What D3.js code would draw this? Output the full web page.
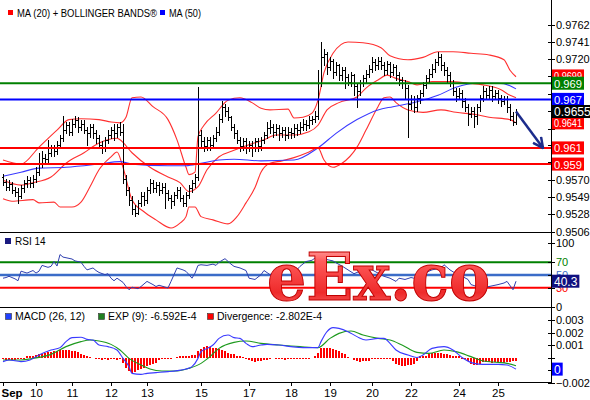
<!DOCTYPE html>
<html><head><meta charset="utf-8">
<script src="https://cdn.jsdelivr.net/npm/d3@7"></script>
<style>body{margin:0;background:#fff}svg{display:block}</style>
</head><body><svg id="c" width="590" height="400"></svg>
<script>
// ---------- DATA ----------
const open=[0.9574,0.9568,0.9562,0.9565,0.9558,0.9556,0.9550,0.9560,0.9566,0.9570,
0.9566,0.9572,0.9580,0.9590,0.9598,0.9596,0.9604,0.9610,0.9606,0.9614,
0.9622,0.9632,0.9638,0.9630,0.9640,0.9644,0.9636,0.9640,0.9632,0.9628,
0.9636,0.9628,0.9622,0.9614,0.9610,0.9620,0.9626,0.9632,0.9628,0.9636,
0.9630,0.9572,0.9558,0.9546,0.9534,0.9530,0.9542,0.9550,0.9546,0.9558,
0.9566,0.9560,0.9564,0.9558,0.9562,0.9554,0.9548,0.9544,0.9552,0.9558,
0.9548,0.9542,0.9552,0.9560,0.9566,0.9574,0.9626,0.9618,0.9612,0.9620,
0.9614,0.9622,0.9630,0.9646,0.9660,0.9656,0.9648,0.9636,0.9628,0.9620,
0.9612,0.9618,0.9610,0.9614,0.9610,0.9618,0.9612,0.9620,0.9626,0.9634,
0.9636,0.9630,0.9634,0.9628,0.9632,0.9626,0.9630,0.9628,0.9634,0.9632,
0.9636,0.9640,0.9638,0.9644,0.9646,0.9650,0.9690,0.9722,0.9726,0.9710,
0.9718,0.9704,0.9712,0.9700,0.9706,0.9698,0.9692,0.9700,0.9686,0.9680,
0.9690,0.9696,0.9702,0.9708,0.9716,0.9712,0.9718,0.9712,0.9706,0.9714,
0.9704,0.9710,0.9700,0.9694,0.9690,0.9684,0.9664,0.9670,0.9660,0.9672,
0.9678,0.9688,0.9696,0.9702,0.9708,0.9716,0.9722,0.9712,0.9706,0.9700,
0.9690,0.9680,0.9674,0.9678,0.9668,0.9660,0.9652,0.9656,0.9650,0.9660,
0.9672,0.9680,0.9676,0.9682,0.9674,0.9678,0.9672,0.9668,0.9670,0.9660,
0.9650,0.9642];
const high=[0.9578,0.9572,0.9570,0.9568,0.9562,0.9560,0.9564,0.9570,0.9575,0.9574,
0.9576,0.9586,0.9604,0.9606,0.9602,0.9620,0.9614,0.9614,0.9618,0.9626,
0.9650,0.9642,0.9642,0.9646,0.9650,0.9648,0.9644,0.9644,0.9636,0.9640,
0.9640,0.9632,0.9626,0.9618,0.9624,0.9632,0.9636,0.9640,0.9640,0.9642,
0.9640,0.9576,0.9562,0.9550,0.9540,0.9546,0.9556,0.9556,0.9562,0.9572,
0.9570,0.9568,0.9568,0.9566,0.9566,0.9558,0.9552,0.9556,0.9562,0.9562,
0.9552,0.9556,0.9564,0.9570,0.9578,0.9685,0.9632,0.9624,0.9624,0.9624,
0.9626,0.9636,0.9652,0.9668,0.9664,0.9660,0.9650,0.9640,0.9632,0.9624,
0.9622,0.9622,0.9618,0.9618,0.9622,0.9622,0.9624,0.9630,0.9642,0.9644,
0.9640,0.9640,0.9638,0.9636,0.9636,0.9636,0.9634,0.9640,0.9640,0.9642,
0.9646,0.9644,0.9650,0.9650,0.9656,0.9706,0.9741,0.9732,0.9728,0.9722,
0.9720,0.9716,0.9714,0.9710,0.9710,0.9702,0.9704,0.9702,0.9690,0.9694,
0.9700,0.9706,0.9712,0.9722,0.9720,0.9722,0.9722,0.9716,0.9718,0.9716,
0.9714,0.9712,0.9704,0.9698,0.9694,0.9688,0.9676,0.9674,0.9676,0.9682,
0.9692,0.9700,0.9708,0.9714,0.9720,0.9728,0.9726,0.9716,0.9710,0.9704,
0.9694,0.9684,0.9684,0.9682,0.9672,0.9664,0.9660,0.9660,0.9664,0.9676,
0.9686,0.9684,0.9686,0.9686,0.9682,0.9682,0.9676,0.9674,0.9674,0.9664,
0.9654,0.9658];
const low=[0.9564,0.9558,0.9558,0.9554,0.9550,0.9542,0.9548,0.9556,0.9562,0.9562,
0.9562,0.9568,0.9576,0.9586,0.9590,0.9592,0.9600,0.9600,0.9602,0.9610,
0.9618,0.9628,0.9626,0.9626,0.9636,0.9630,0.9632,0.9628,0.9614,0.9624,
0.9622,0.9616,0.9610,0.9604,0.9606,0.9616,0.9622,0.9620,0.9624,0.9626,
0.9566,0.9552,0.9540,0.9528,0.9526,0.9528,0.9538,0.9540,0.9542,0.9554,
0.9556,0.9556,0.9552,0.9554,0.9536,0.9546,0.9536,0.9540,0.9548,0.9544,
0.9538,0.9538,0.9548,0.9556,0.9562,0.9570,0.9612,0.9606,0.9608,0.9608,
0.9610,0.9618,0.9626,0.9642,0.9650,0.9644,0.9632,0.9622,0.9616,0.9606,
0.9608,0.9604,0.9606,0.9600,0.9606,0.9606,0.9608,0.9616,0.9622,0.9628,
0.9624,0.9626,0.9620,0.9624,0.9620,0.9622,0.9622,0.9624,0.9626,0.9628,
0.9632,0.9632,0.9634,0.9640,0.9642,0.9646,0.9686,0.9712,0.9702,0.9706,
0.9696,0.9700,0.9694,0.9694,0.9684,0.9688,0.9686,0.9676,0.9660,0.9676,
0.9686,0.9690,0.9698,0.9704,0.9706,0.9708,0.9708,0.9700,0.9702,0.9698,
0.9700,0.9694,0.9688,0.9684,0.9670,0.9624,0.9658,0.9654,0.9656,0.9666,
0.9674,0.9684,0.9692,0.9698,0.9704,0.9712,0.9706,0.9700,0.9692,0.9686,
0.9676,0.9668,0.9670,0.9660,0.9656,0.9638,0.9648,0.9636,0.9640,0.9656,
0.9668,0.9670,0.9672,0.9668,0.9670,0.9666,0.9662,0.9664,0.9654,0.9644,
0.9638,0.9640];
const close=[0.9568,0.9562,0.9565,0.9558,0.9556,0.9550,0.9560,0.9566,0.9570,0.9566,
0.9572,0.9580,0.9590,0.9598,0.9596,0.9604,0.9610,0.9606,0.9614,0.9622,
0.9632,0.9638,0.9630,0.9640,0.9644,0.9636,0.9640,0.9632,0.9628,0.9636,
0.9628,0.9622,0.9614,0.9610,0.9620,0.9626,0.9632,0.9628,0.9636,0.9630,
0.9572,0.9558,0.9546,0.9534,0.9530,0.9542,0.9550,0.9546,0.9558,0.9566,
0.9560,0.9564,0.9558,0.9562,0.9554,0.9548,0.9544,0.9552,0.9558,0.9548,
0.9542,0.9552,0.9560,0.9566,0.9574,0.9626,0.9618,0.9612,0.9620,0.9614,
0.9622,0.9630,0.9646,0.9660,0.9656,0.9648,0.9636,0.9628,0.9620,0.9612,
0.9618,0.9610,0.9614,0.9610,0.9618,0.9612,0.9620,0.9626,0.9634,0.9636,
0.9630,0.9634,0.9628,0.9632,0.9626,0.9630,0.9628,0.9634,0.9632,0.9636,
0.9640,0.9638,0.9644,0.9646,0.9650,0.9690,0.9722,0.9726,0.9710,0.9718,
0.9704,0.9712,0.9700,0.9706,0.9698,0.9692,0.9700,0.9686,0.9680,0.9690,
0.9696,0.9702,0.9708,0.9716,0.9712,0.9718,0.9712,0.9706,0.9714,0.9704,
0.9710,0.9700,0.9694,0.9690,0.9684,0.9664,0.9670,0.9660,0.9672,0.9678,
0.9688,0.9696,0.9702,0.9708,0.9716,0.9722,0.9712,0.9706,0.9700,0.9690,
0.9680,0.9674,0.9678,0.9668,0.9660,0.9652,0.9656,0.9650,0.9660,0.9672,
0.9680,0.9676,0.9682,0.9674,0.9678,0.9672,0.9668,0.9670,0.9660,0.9650,
0.9642,0.9655];

const upperIdx=[0,6,12,18,22,26,32,36,39,41,43,46,50,55,58,61,62,64,65,67,71,75,79,83,86,89,95,97,100,103,105,107,110,115,120,126,129,135,140,145,150,156,162,167,169,171];
const upperVal=[0.9595,0.9590,0.9611,0.9632,0.9645,0.9646,0.9645,0.9642,0.9641,0.9648,0.9672,0.9673,0.9661,0.9645,0.9620,0.9586,0.9577,0.9580,0.9624,0.9638,0.9653,0.9669,0.9672,0.9666,0.9659,0.9657,0.9658,0.9647,0.9648,0.9653,0.9669,0.9703,0.9727,0.9741,0.9740,0.9734,0.9724,0.9719,0.9722,0.9729,0.9729,0.9727,0.9725,0.9719,0.9706,0.9698];
const midIdx=[0,6,10,16,21,27,32,38,39,43,49,55,59,62,65,68,72,77,82,87,91,97,102,105,108,112,118,121,125,128,131,135,138,143,149,155,160,166,169,171];
const midVal=[0.9570,0.9564,0.9567,0.9574,0.9591,0.9604,0.9616,0.9622,0.9620,0.9604,0.9586,0.9574,0.9567,0.9556,0.9562,0.9583,0.9599,0.9607,0.9614,0.9620,0.9626,0.9626,0.9630,0.9638,0.9657,0.9666,0.9673,0.9684,0.9694,0.9700,0.9696,0.9692,0.9688,0.9692,0.9692,0.9690,0.9688,0.9682,0.9675,0.9672];
const lowerIdx=[0,3,10,12,17,19,23,26,29,32,36,38,40,43,47,51,56,59,61,62,64,66,70,75,78,81,84,86,89,93,97,102,105,107,110,113,118,121,125,127,129,131,135,140,146,151,158,162,169,171];
const lowerVal=[0.9547,0.9544,0.9546,0.9542,0.9543,0.9537,0.9537,0.9543,0.9562,0.9583,0.9599,0.9605,0.9586,0.9546,0.9531,0.9521,0.9511,0.9517,0.9525,0.9537,0.9537,0.9525,0.9521,0.9516,0.9525,0.9542,0.9561,0.9580,0.9591,0.9594,0.9598,0.9605,0.9610,0.9595,0.9586,0.9591,0.9611,0.9632,0.9661,0.9672,0.9673,0.9666,0.9657,0.9654,0.9657,0.9654,0.9651,0.9648,0.9645,0.9641];
const ma50Idx=[0,6,12,21,32,39,43,55,61,66,72,77,86,97,105,111,118,125,130,138,145,151,158,165,169,171];
const ma50Val=[0.9575,0.9580,0.9585,0.9586,0.9590,0.9593,0.9590,0.9588,0.9588,0.9591,0.9595,0.9596,0.9594,0.9595,0.9610,0.9628,0.9645,0.9657,0.9661,0.9667,0.9675,0.9685,0.9690,0.9690,0.9687,0.9683];

const levelVals=[0.969,0.967,0.961,0.959];
const levelColors=["#008000","#0000ff","#ff0000","#ff0000"];
// value tags on the right axis, in drawing order (last on top)
const tagVals=[0.9699,0.969,0.967,0.9641,0.961,0.959,0.9655];
const tagTexts=["0.9699","0.969","0.967","0.9641","0.961","0.959","0.9655"];
const tagColors=["#ff0000","#008000","#0000ff","#ff0000","#ff0000","#ff0000","#000000"];
const forecastIdx=[171,180];
const forecastVal=[0.9655,0.961];
const priceTicks=[0.9762,0.9741,0.9720,0.9699,0.9677,0.9656,0.9634,0.9613,0.9592,0.9570,0.9549,0.9528,0.9506];
const priceTickLabels=[0.9762,0.9741,0.9720,0.9570,0.9549,0.9528,0.9506];

const rsiIdx=[0,1,2,4,5,6,8,10,11,12,13,15,16,17,18,19,20,21,23,24,26,27,28,30,31,32,34,35,36,37,38,40,41,42,43,45,46,47,48,49,50,51,52,55,56,57,58,60,61,62,63,64,65,66,68,70,71,72,74,76,77,79,81,82,84,86,87,89,91,92,94,96,97,99,101,103,105,106,107,108,110,111,113,115,117,119,121,123,125,127,129,131,132,134,136,137,139,141,143,146,147,149,151,153,155,156,158,160,162,165,167,168,170,171];
const rsiVal=[45,46,48,44,41,56,53,57,53,56,65,62,63.5,71,64,82,78,77,75,72,70,63.5,58,61,57,54,50.5,52,45,41,45,38.5,32,27,31,28.6,32,36,40,37.5,35,32,34,29.7,40,50.5,61,58,55.7,50.5,45,53,65,66,65,67,65,70,75.5,67,63.5,61,57,45,43,50.5,57,50.5,55.7,61,62,58,53,63.5,71,73,80,85,80,74,72,69,64,58,52,56,60,58,53,48,45,40,45,43,46,45,50,54,58,61,66,58,52,48,43,35,32,30,32,35,37.5,40,27,40.3];
const rsiLevels=[70,50,30];
const rsiLevelColors=["#008000","#3b6cc8","#ff0000"];
const rsiTicks=[0,30,50,70,100];
const rsiTag="40.3";

const macdIdx=[0,2,6,9,12,16,19,21,23,26,28,30,32,35,37,38,40,42,43,46,48,51,55,58,61,63,65,66,68,70,72,75,77,79,81,83,86,88,92,96,100,105,106,108,110,112,115,118,121,125,127,129,131,135,138,140,143,147,150,153,157,160,165,168,171];
const macdVal=[-0.00033,-0.0002,-0.00033,-0.0002,0.0002,0.0006,0.00079,0.00127,0.00159,0.00162,0.00145,0.0014,0.001,0.00087,0.00073,0.0006,-0.00007,-0.00073,-0.00127,-0.00135,-0.00127,-0.00121,-0.00113,-0.00105,-0.00092,-0.00073,-0.00007,0.00047,0.00073,0.001,0.00153,0.0018,0.00159,0.00153,0.00113,0.00087,0.001,0.00105,0.001,0.00087,0.00079,0.00079,0.00127,0.00207,0.00239,0.00233,0.00207,0.00167,0.0014,0.00153,0.00153,0.00113,0.0006,0.0002,0,0.0002,0.00073,0.00087,0.0006,0,-0.00047,-0.00055,-0.00055,-0.0006,-0.00093];
const sigIdx=[0,6,10,16,21,26,29,32,36,39,42,46,49,53,58,62,66,69,72,77,81,86,92,99,105,109,112,116,120,125,129,133,138,142,147,151,156,160,165,168,171];
const sigVal=[-0.0002,-0.0002,-0.00007,0.00025,0.00087,0.00127,0.0014,0.00132,0.00105,0.0006,-0.00007,-0.0006,-0.00092,-0.00108,-0.00108,-0.00087,-0.00047,0.00007,0.00073,0.00121,0.00132,0.00113,0.001,0.00087,0.00079,0.00153,0.00193,0.00212,0.0018,0.00153,0.0014,0.001,0.00041,0.00033,0.0006,0.00047,0.00007,-0.00028,-0.00039,-0.00047,-0.00066];
const divergence=[-0.00015,-0.00016,-0.00016,-0.00018,-0.00016,-0.00015,-0.00014,-0.00012,
0.00012,0.00014,0.00016,0.00018,0.00025,
0.0003,0.00036,0.00042,0.00046,0.0005,0.00055,0.0006,0.00064,0.00064,
0.0006,0.00055,0.0005,0.00042,0.00032,0.0002,
0.00012,0.00004,-0.00005,
-0.00012,-0.00015,-0.00016,-0.00014,-0.00016,-0.00015,-0.00014,-0.00016,-0.00012,
-0.0004,-0.0008,-0.0011,-0.0012,-0.00115,-0.001,-0.0009,-0.0008,-0.0007,-0.0006,-0.0005,-0.0004,
-0.0002,-0.00015,-0.00015,-0.00014,-0.00012,
-0.00003,0.00003,
0.00012,0.00014,0.00015,0.00016,0.00018,0.0002,
0.0005,0.0007,0.00086,0.0009,0.00086,0.0008,0.00075,0.0007,0.0006,0.0005,0.0004,0.0003,0.00025,
0.00015,0.00012,0.00005,
-0.00015,-0.0002,-0.0003,-0.00032,-0.0003,-0.00025,-0.0002,-0.00018,-0.00015,
-0.00004,
-0.00012,-0.00014,-0.00014,-0.00016,-0.00014,-0.00014,-0.00015,-0.00014,-0.00012,-0.00014,-0.00012,-0.0001,-0.00004,
0.00014,0.0004,
0.0008,0.0008,0.00078,0.00075,0.0007,0.0006,0.0005,0.0004,0.00025,
0.00005,-0.00004,
-0.0002,-0.0003,-0.00035,-0.0003,-0.0003,-0.00025,
-0.00012,-0.0001,-0.00012,-0.0001,-0.00012,-0.0001,-0.00012,
-0.0003,-0.0005,-0.0006,-0.00065,-0.00065,-0.0006,-0.00062,-0.0005,-0.0003,
0.00012,0.00014,0.00016,
0.0003,0.00035,0.00038,0.0004,0.00035,0.0003,0.00025,0.0002,
0.00014,0.00012,0.0001,-0.0001,-0.00012,
-0.0003,-0.0005,-0.0006,-0.0006,-0.0005,
-0.00035,-0.00035,-0.00038,-0.0004,-0.00035,-0.00035,-0.00038,-0.0004,-0.00035,-0.00035,-0.0003,-0.00028];
const macdTicks=[-0.002,-0.001,0,0.001,0.002,0.003];
const macdTickLabels=[0.003,0.002,0.001,-0.002];
const macdTag="0";
const macdLegend=["MACD (26, 12)","EXP (9): -6.592E-4","Divergence: -2.802E-4"];

const dayIdx=[0,11,23,36,48,66,82,96,109,123,136,152,165];
const dayLabels=["Sep","10","11","12","13","15","17","18","19","20","22","24","25"];

// ---------- DRAW ----------
const F="'Liberation Sans', Arial, Helvetica, sans-serif";
const svg=d3.select("#c").attr("font-family",F);
const N=close.length;
const AX=551;
const x=d3.scaleLinear().domain([0,N-1]).range([3,516]);
const yP=d3.scaleLinear().domain([0.9506,0.9762]).range([232,25]);
const yR=d3.scaleLinear().domain([0,100]).range([307,243]);
const yM=d3.scaleLinear().domain([-0.002,0.003]).range([382.5,320]);

const defs=svg.append("defs");
defs.append("clipPath").attr("id","cpMain").append("rect").attr("x",0).attr("y",0).attr("width",AX).attr("height",232);
defs.append("clipPath").attr("id","cpRsi").append("rect").attr("x",0).attr("y",232).attr("width",AX).attr("height",75);
defs.append("clipPath").attr("id","cpMacd").append("rect").attr("x",0).attr("y",307).attr("width",AX).attr("height",75);
const gr=defs.append("linearGradient").attr("id","wm").attr("x1",0).attr("y1",0).attr("x2",0).attr("y2",1);
gr.append("stop").attr("offset","0").attr("stop-color","#ffd6d6");
gr.append("stop").attr("offset","0.3").attr("stop-color","#ff5a5a");
gr.append("stop").attr("offset","0.7").attr("stop-color","#ee2a2a");
gr.append("stop").attr("offset","1").attr("stop-color","#ff7a7a");
const mk=defs.append("marker").attr("id","arr").attr("viewBox","0 0 10 10").attr("refX",9).attr("refY",5)
  .attr("markerWidth",5).attr("markerHeight",5).attr("orient","auto");
mk.append("path").attr("d","M1,1L9,5L1,9").attr("fill","none").attr("stroke","#1c2c8c").attr("stroke-width",2);

const lineOf=(sc)=>d3.line().x(d=>x(d[0])).y(d=>sc(d[1])).curve(d3.curveMonotoneX);

// ---- main panel ----
const gMain=svg.append("g").attr("clip-path","url(#cpMain)");
[[upperIdx,upperVal],[midIdx,midVal],[lowerIdx,lowerVal]].forEach(([a,b])=>{
  gMain.append("path").attr("d",lineOf(yP)(d3.zip(a,b))).attr("fill","none").attr("stroke","#ff3030").attr("stroke-width",1.1);
});
gMain.append("path").attr("d",lineOf(yP)(d3.zip(ma50Idx,ma50Val))).attr("fill","none").attr("stroke","#3a3aff").attr("stroke-width",1.1);

gMain.append("g").attr("stroke","#000").attr("stroke-width",1).attr("fill","none").attr("shape-rendering","crispEdges")
  .selectAll("path").data(d3.range(N)).join("path")
  .attr("d",i=>{
    const cx=Math.round(x(i))+0.5;
    const yo=Math.round(yP(open[i]))+0.5, yc=Math.round(yP(close[i]))+0.5;
    return `M${cx},${Math.round(yP(high[i]))}V${Math.round(yP(low[i]))+1}M${cx-1.5},${yo}H${cx}M${cx},${yc}H${cx+1.5}`;
  });

gMain.selectAll("line.lvl").data(levelVals).join("line").attr("class","lvl")
  .attr("x1",0).attr("x2",AX).attr("y1",d=>yP(d)).attr("y2",d=>yP(d))
  .attr("stroke",(d,i)=>levelColors[i]).attr("stroke-width",2);

svg.append("path").attr("d",d3.line().x(d=>x(d[0])).y(d=>yP(d[1]))(d3.zip(forecastIdx,forecastVal)))
  .attr("fill","none").attr("stroke","#1c2c8c").attr("stroke-width",2.5).attr("marker-end","url(#arr)");

// legend main
svg.append("rect").attr("x",8).attr("y",10).attr("width",5).attr("height",5).attr("fill","#ff0000");
svg.append("text").attr("x",17).attr("y",17).attr("font-size",10).attr("textLength",140).attr("lengthAdjust","spacingAndGlyphs").text("MA (20) + BOLLINGER BANDS®");
svg.append("rect").attr("x",160).attr("y",10).attr("width",5).attr("height",5).attr("fill","#0000ff");
svg.append("text").attr("x",169).attr("y",17).attr("font-size",10).attr("textLength",32).attr("lengthAdjust","spacingAndGlyphs").text("MA (50)");

// ---- RSI panel ----
const gR=svg.append("g").attr("clip-path","url(#cpRsi)");
gR.selectAll("line").data(rsiLevels).join("line")
  .attr("x1",0).attr("x2",AX).attr("y1",d=>yR(d)).attr("y2",d=>yR(d))
  .attr("stroke",(d,i)=>rsiLevelColors[i]).attr("stroke-width",(d,i)=>i===1?2.5:2);
gR.append("path").attr("d",d3.line().x(d=>x(d[0])).y(d=>yR(d[1]))(d3.zip(rsiIdx,rsiVal)))
  .attr("fill","none").attr("stroke","#3040b0").attr("stroke-width",1);
svg.append("rect").attr("x",5).attr("y",238).attr("width",6).attr("height",6).attr("fill","#1a1a80");
svg.append("text").attr("x",15).attr("y",245).attr("font-size",10).text("RSI 14");

// ---- MACD panel ----
const gM=svg.append("g").attr("clip-path","url(#cpMacd)");
gM.append("g").attr("fill","#ff0000").attr("shape-rendering","crispEdges")
  .selectAll("rect").data(d3.range(N)).join("rect")
  .attr("x",i=>Math.round(x(i))-1).attr("width",2)
  .attr("y",i=>Math.min(yM(0),yM(divergence[i])))
  .attr("height",i=>Math.abs(yM(divergence[i])-yM(0)));
gM.append("path").attr("d",lineOf(yM)(d3.zip(sigIdx,sigVal))).attr("fill","none").attr("stroke","#1e9a1e").attr("stroke-width",1.1);
gM.append("path").attr("d",lineOf(yM)(d3.zip(macdIdx,macdVal))).attr("fill","none").attr("stroke","#3a3aff").attr("stroke-width",1.1);
const legCols=["#2040ff","#208020","#ff0000"];
const legX=[5,98,207];
macdLegend.forEach((t,i)=>{
  svg.append("rect").attr("x",legX[i]+0.5).attr("y",313.5).attr("width",6).attr("height",6).attr("fill",legCols[i]).attr("stroke","#333").attr("stroke-width",0.6);
  svg.append("text").attr("x",legX[i]+10).attr("y",320).attr("font-size",10.5).text(t);
});

// ---- frame lines ----
const fr=svg.append("g").attr("stroke","#000").attr("stroke-width",1).attr("shape-rendering","crispEdges");
[232,307,382].forEach(v=>fr.append("line").attr("x1",0).attr("x2",AX).attr("y1",v+0.5).attr("y2",v+0.5));
fr.append("line").attr("x1",AX+0.5).attr("x2",AX+0.5).attr("y1",0).attr("y2",383);

// ---- axes ----
function styleAxis(g){
  g.select(".domain").remove();
  g.selectAll(".tick line").attr("stroke","#000").attr("x1",-3).attr("shape-rendering","crispEdges");
  g.selectAll(".tick text").attr("font-size",11).attr("font-family",F).attr("fill","#000");
}
svg.append("g").attr("transform",`translate(${AX},0)`)
  .call(d3.axisRight(yP).tickValues(priceTicks).tickSize(4).tickPadding(1)
    .tickFormat(d=>priceTickLabels.includes(d)?d3.format(".4f")(d):""))
  .call(styleAxis);
const gRA=svg.append("g").attr("transform",`translate(${AX},0)`)
  .call(d3.axisRight(yR).tickValues(rsiTicks).tickSize(4).tickPadding(1).tickFormat(d3.format("d")))
  .call(styleAxis);
gRA.selectAll(".tick text").attr("fill",d=>{const k=rsiLevels.indexOf(d);return k>=0?rsiLevelColors[k]:"#000";});
svg.append("g").attr("transform",`translate(${AX},0)`)
  .call(d3.axisRight(yM).tickValues(macdTicks).tickSize(4).tickPadding(1)
    .tickFormat(d=>macdTickLabels.includes(d)?d3.format(".3f")(d):""))
  .call(styleAxis);

// tags (value boxes on the right axis)
function tag(yv,txt,col,fs,maxW){
  const r=svg.append("rect").attr("x",AX+1).attr("y",yv-6.5).attr("height",13).attr("fill",col);
  const t=svg.append("text").attr("x",AX+3).attr("y",yv+4.5).attr("font-size",fs).attr("fill","#fff").text(txt);
  let w=t.node().getComputedTextLength();
  if(maxW && w>maxW-4){ t.attr("textLength",maxW-4).attr("lengthAdjust","spacingAndGlyphs"); w=maxW-4; }
  r.attr("width",w+4);
}
tagVals.forEach((v,i)=>{
  const black=tagColors[i]==="#000000";
  tag(yP(v),tagTexts[i],tagColors[i],black?12:11.5,black?0:32);
});
tag(yR(rsiVal[rsiVal.length-1]),rsiTag,"#101080",12,0);
tag(yM(macdVal[macdVal.length-1]),macdTag,"#0000ff",12,0);

// x axis
const gX=svg.append("g").attr("transform","translate(0,382)")
  .call(d3.axisBottom(x).tickValues(dayIdx).tickSize(4).tickPadding(3).tickFormat((d,i)=>dayLabels[i]));
gX.select(".domain").remove();
gX.selectAll(".tick line").attr("stroke","#000");
gX.selectAll(".tick text").attr("font-size",11.5).attr("font-family",F).attr("fill","#000");
gX.selectAll(".tick text").filter((d,i)=>i===0).attr("font-weight","bold").attr("text-anchor","start").attr("dx",-2);

// watermark
svg.append("text").attr("x",267).attr("y",300).attr("font-family","'DejaVu Serif', serif").attr("font-weight","bold")
  .attr("font-size",66).attr("textLength",223).attr("lengthAdjust","spacingAndGlyphs")
  .attr("fill","url(#wm)").attr("stroke","#c00000").attr("stroke-width",1).text("eEx.co");
</script></body></html>
